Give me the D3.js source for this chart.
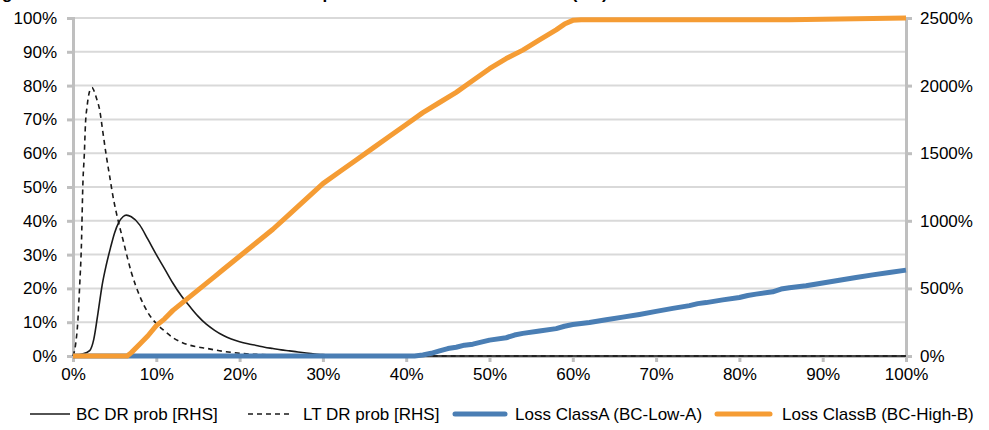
<!DOCTYPE html>
<html><head><meta charset="utf-8">
<script src="https://cdn.jsdelivr.net/npm/d3@7"></script>
<style>
body{margin:0;background:#fff;}
text{font-family:"Liberation Sans",Arial,sans-serif;}
</style></head>
<body><svg id="c" width="989" height="430"></svg>
<script>
// ---- data ----
const xTicks = [0,10,20,30,40,50,60,70,80,90,100];
const leftTicks = [0,10,20,30,40,50,60,70,80,90,100];
const rightTicks = [0,500,1000,1500,2000,2500];

// BC DR prob [RHS] (values in RHS %)
const bcX = [0,1,2,2.5,3,3.5,4,4.5,5,5.5,6,6.4,7,8,9,10,11,12,13,14,15,16,17,18,19,20,21,22,23,24,25,26,27,28,29,30,31,32,33,40,50,60,70,80,90,100];
const bcY = [0,12,40,125,318,525,675,800,912,988,1030,1042,1030,970,862,750,645,538,445,368,295,235,190,153,125,105,90,78,65,55,45,38,30,22,15,10,5,2,0,0,0,0,0,0,0,0];

// LT DR prob [RHS]
const ltX = [0,0.3,0.6,0.8,1.0,1.2,1.35,1.5,1.7,1.9,2.1,2.3,2.5,2.8,3.2,3.6,4.0,4.4,4.8,5.2,5.6,6.0,6.5,7,7.5,8,9,10,11,12,13,14,15,16,17,18,19,20,22,24,26,28,30,40,50,60,70,80,90,100];
const ltY = [0,80,275,520,800,1300,1480,1720,1850,1935,1975,1985,1965,1910,1820,1650,1480,1330,1180,1060,955,860,735,620,525,445,320,240,185,135,102,80,67,57,45,35,27,20,12,7,4,1,0,0,0,0,0,0,0,0];

// Loss ClassA (BC-Low-A)
const aX = [0,41,42,43,44,45,46,47,48,49,50,52,53,54,56,58,59,60,62,64,66,68,70,72,74,75,76,78,80,81,82,84,85,86,88,90,92,94,96,98,100];
const aY = [0,0,0.3,0.8,1.5,2.2,2.6,3.2,3.5,4.1,4.7,5.4,6.2,6.7,7.4,8.1,8.8,9.3,9.9,10.7,11.5,12.3,13.2,14.1,14.9,15.5,15.8,16.6,17.3,17.9,18.3,19.0,19.8,20.2,20.8,21.6,22.4,23.2,24.0,24.7,25.4];

// Loss ClassB (BC-High-B)
const bX = [0,6.5,7,8,9,10,11,12,13,14,15,16,17,18,19,20,22,24,26,28,30,32,34,36,38,40,42,44,46,48,50,52,54,56,58,59,60,61,70,80,86,100];
const bY = [0,0,1,3.5,6,9,11,13.5,15.5,17.5,19.5,21.5,23.5,25.5,27.5,29.5,33.5,37.5,42,46.5,51,54.5,58,61.5,65,68.5,72,75,78,81.5,85,88,90.5,93.5,96.5,98.2,99.3,99.5,99.5,99.5,99.5,100];

const legendLabels = ["BC DR prob [RHS]","LT DR prob [RHS]","Loss ClassA (BC-Low-A)","Loss ClassB (BC-High-B)"];
const titleText = "Figure 9: Tranche losses and default rate probabilities for the base case (BC)";

// ---- chart ----
const W=989,H=430, m={l:73,r:83,t:18,b:74};
const svg=d3.select("#c");
const x=d3.scaleLinear().domain([0,100]).range([m.l,W-m.r]);
const yL=d3.scaleLinear().domain([0,100]).range([H-m.b,m.t]);
const yR=d3.scaleLinear().domain([0,2500]).range([H-m.b,m.t]);
const axisCol="#bfbfbf", gridCol="#d9d9d9", fs=17;

// title (clipped at the top edge, as in the reference)
svg.append("text").attr("x",-13).attr("y",-1).attr("font-size",17).attr("font-weight","bold").attr("fill","#000").text(titleText);

// gridlines
svg.append("g").selectAll("line").data(leftTicks.slice(1)).join("line")
 .attr("x1",m.l).attr("x2",W-m.r).attr("y1",d=>yL(d)).attr("y2",d=>yL(d))
 .attr("stroke",gridCol).attr("stroke-width",2);

// left axis
const gL=svg.append("g").attr("transform",`translate(${m.l},0)`)
 .call(d3.axisLeft(yL).tickValues(leftTicks).tickFormat(d=>d+"%").tickSize(6).tickPadding(10));
// right axis
const gR=svg.append("g").attr("transform",`translate(${W-m.r},0)`)
 .call(d3.axisRight(yR).tickValues(rightTicks).tickFormat(d=>d+"%").tickSize(6).tickPadding(8));
// bottom axis
const gB=svg.append("g").attr("transform",`translate(0,${H-m.b})`)
 .call(d3.axisBottom(x).tickValues(xTicks).tickFormat(d=>d+"%").tickSize(6).tickPadding(6));
[gL,gR,gB].forEach(g=>{
  g.select(".domain").attr("stroke",axisCol).attr("stroke-width",3);
  g.selectAll(".tick line").attr("stroke",axisCol).attr("stroke-width",3);
  g.selectAll(".tick text").attr("font-size",fs).attr("fill","#000").attr("font-family","Liberation Sans, Arial, sans-serif");
});

// lines
const lineR=(xs,ys)=>d3.line().x((d,i)=>x(xs[i])).y(d=>yR(d)).curve(d3.curveMonotoneX)(ys);
const lineL=(xs,ys)=>d3.line().x((d,i)=>x(xs[i])).y(d=>yL(d))(ys);

svg.append("path").attr("d",lineR(bcX,bcY)).attr("fill","none").attr("stroke","#1a1a1a").attr("stroke-width",1.6);
svg.append("path").attr("d",lineR(ltX,ltY)).attr("fill","none").attr("stroke","#1a1a1a").attr("stroke-width",1.6).attr("stroke-dasharray","5,4");
svg.append("path").attr("d",lineL(aX,aY)).attr("fill","none").attr("stroke","#4a7eb4").attr("stroke-width",5).attr("stroke-linejoin","round");
svg.append("path").attr("d",lineL(bX,bY)).attr("fill","none").attr("stroke","#f59c34").attr("stroke-width",5).attr("stroke-linejoin","round");

// legend
const legItems=[
 {label:legendLabels[0],col:"#1a1a1a",w:1.6,dash:null,x0:30,x1:70,tx:76},
 {label:legendLabels[1],col:"#1a1a1a",w:1.6,dash:"5,4",x0:248,x1:292,tx:303},
 {label:legendLabels[2],col:"#4a7eb4",w:5,dash:null,x0:455,x1:505,tx:515},
 {label:legendLabels[3],col:"#f59c34",w:5,dash:null,x0:717,x1:770,tx:782}
];
const ly=414;
const lg=svg.append("g");
legItems.forEach(it=>{
  lg.append("line").attr("x1",it.x0).attr("x2",it.x1).attr("y1",ly).attr("y2",ly)
    .attr("stroke",it.col).attr("stroke-width",it.w).attr("stroke-dasharray",it.dash).attr("stroke-linecap",it.w>2?"round":"butt");
  lg.append("text").attr("x",it.tx).attr("y",ly).attr("dy","0.35em").attr("font-size",fs).attr("fill","#000").text(it.label);
});
</script></body></html>
